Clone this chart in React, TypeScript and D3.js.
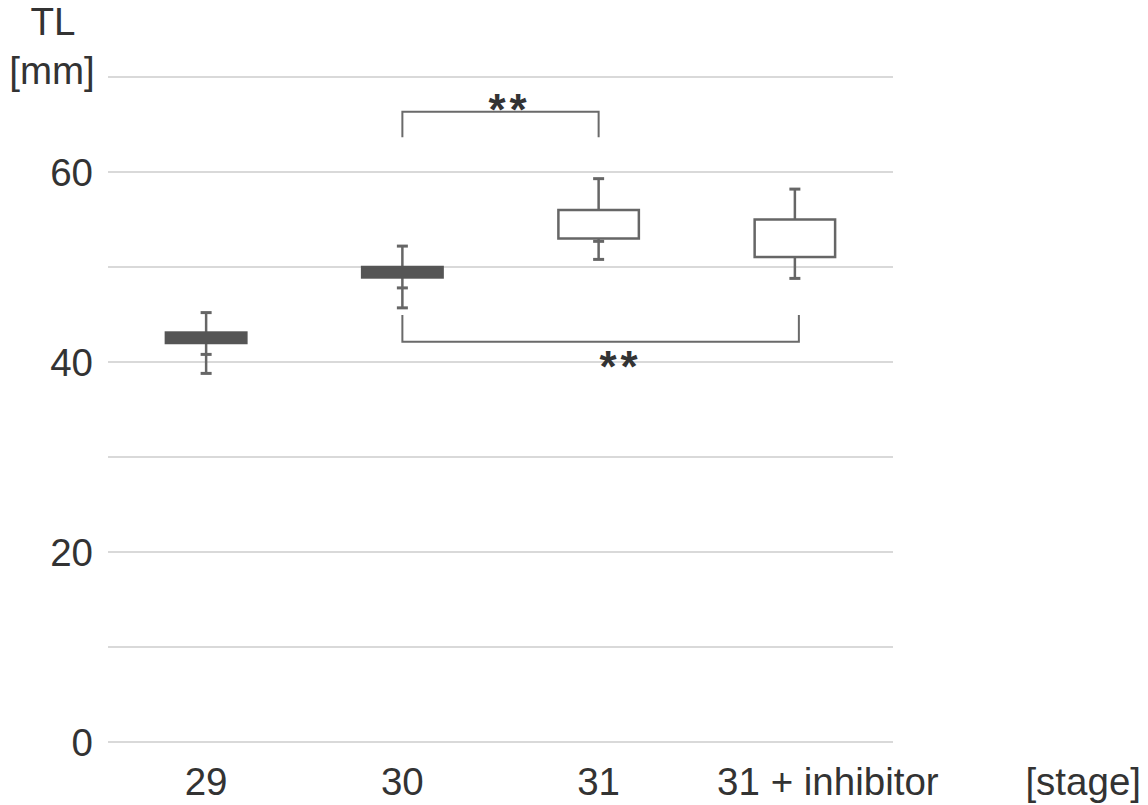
import React from "react";
import * as d3 from "d3";

const categories = ["29", "30", "31", "31 + inhibitor"];
const whiskerHigh = [45.2, 52.2, 59.3, 58.2];
const q3 = [43.1, 50.0, 56.0, 55.0];
const q1 = [42.0, 48.9, 53.0, 51.05];
const whiskerLow = [38.8, 45.7, 50.8, 48.8];
const innerCap: (number | null)[] = [40.8, 47.8, 52.7, null];
const filledBox = [true, true, false, false];

const gridValues = [0, 10, 20, 30, 40, 50, 60, 70];
const tickLabels = [0, 20, 40, 60];

// significance brackets: from, to, line level, tip level, star label
const brackets = [
  { from: "30", to: "31", level: 66.35, tip: 63.65, label: "**", labelY: 64.95 },
  { from: "30", to: "31 + inhibitor", level: 42.14, tip: 44.95, label: "**", labelY: 37.9 },
];

const W = 1148;
const H = 805;
const FONT = "'Liberation Sans', Arial, Helvetica, sans-serif";
const TEXT = "#333";
const STROKE = "#666";
const FS = 38.5;

export default function App() {
  const x = d3.scaleBand<string>().domain(categories).range([108, 893]).padding(0);
  const y = d3.scaleLinear().domain([0, 70]).range([742, 77]);
  const bw = x.bandwidth() * 0.41;
  const capW = 11;
  const cx = (c: string) => (x(c) as number) + x.bandwidth() / 2;

  return (
    <svg
      width={W}
      height={H}
      style={{ position: "absolute", left: 0, top: 0, background: "#fff" }}
      fontFamily={FONT}
    >
      <rect x={0} y={0} width={W} height={H} fill="#fff" />
      {gridValues.map((v) => (
        <line key={v} x1={108} x2={893} y1={y(v)} y2={y(v)} stroke="#d9d9d9" strokeWidth={2} />
      ))}
      {tickLabels.map((v) => (
        <text key={v} x={93} y={y(v)} dy="0.36em" textAnchor="end" fontSize={FS} fill={TEXT}>
          {v}
        </text>
      ))}
      <text x={53} y={35} textAnchor="middle" fontSize={FS} fill={TEXT}>TL</text>
      <text x={52} y={84} textAnchor="middle" fontSize={FS} fill={TEXT}>[mm]</text>
      {categories.map((c) => (
        <text
          key={c}
          x={cx(c) + (c.length > 3 ? 33 : 0)}
          y={795}
          textAnchor="middle"
          fontSize={FS}
          fill={TEXT}
        >
          {c}
        </text>
      ))}
      <text x={1141} y={795} textAnchor="end" fontSize={FS} fill={TEXT}>[stage]</text>

      {categories.map((c, i) => {
        const m = cx(c);
        return (
          <g key={c} stroke={STROKE} strokeWidth={2.5}>
            <line x1={m} x2={m} y1={y(whiskerHigh[i])} y2={y(whiskerLow[i])} />
            <line x1={m - capW / 2} x2={m + capW / 2} y1={y(whiskerHigh[i])} y2={y(whiskerHigh[i])} strokeWidth={3} />
            <line x1={m - capW / 2} x2={m + capW / 2} y1={y(whiskerLow[i])} y2={y(whiskerLow[i])} strokeWidth={3} />
            {innerCap[i] !== null && (
              <line x1={m - capW / 2} x2={m + capW / 2} y1={y(innerCap[i] as number)} y2={y(innerCap[i] as number)} strokeWidth={3} />
            )}
            <rect
              x={m - bw / 2}
              y={y(q3[i])}
              width={bw}
              height={y(q1[i]) - y(q3[i])}
              fill={filledBox[i] ? "#555" : "#fff"}
              stroke={filledBox[i] ? "#555" : STROKE}
            />
          </g>
        );
      })}

      {brackets.map((b, i) => {
        const x1 = cx(b.from);
        const x2 = cx(b.to) + (i === 1 ? 4 : 0);
        return (
          <g key={i}>
            <path
              d={`M${x1},${y(b.tip)}V${y(b.level)}H${x2}V${y(b.tip)}`}
              fill="none"
              stroke="#6a6a6a"
              strokeWidth={2}
            />
            <text
              x={(x1 + x2) / 2 + (i === 0 ? 9 : 20)}
              y={y(b.labelY)}
              textAnchor="middle"
              fontSize={44}
              fontWeight="bold"
              letterSpacing={4}
              fill={TEXT}
            >
              {b.label}
            </text>
          </g>
        );
      })}
    </svg>
  );
}
